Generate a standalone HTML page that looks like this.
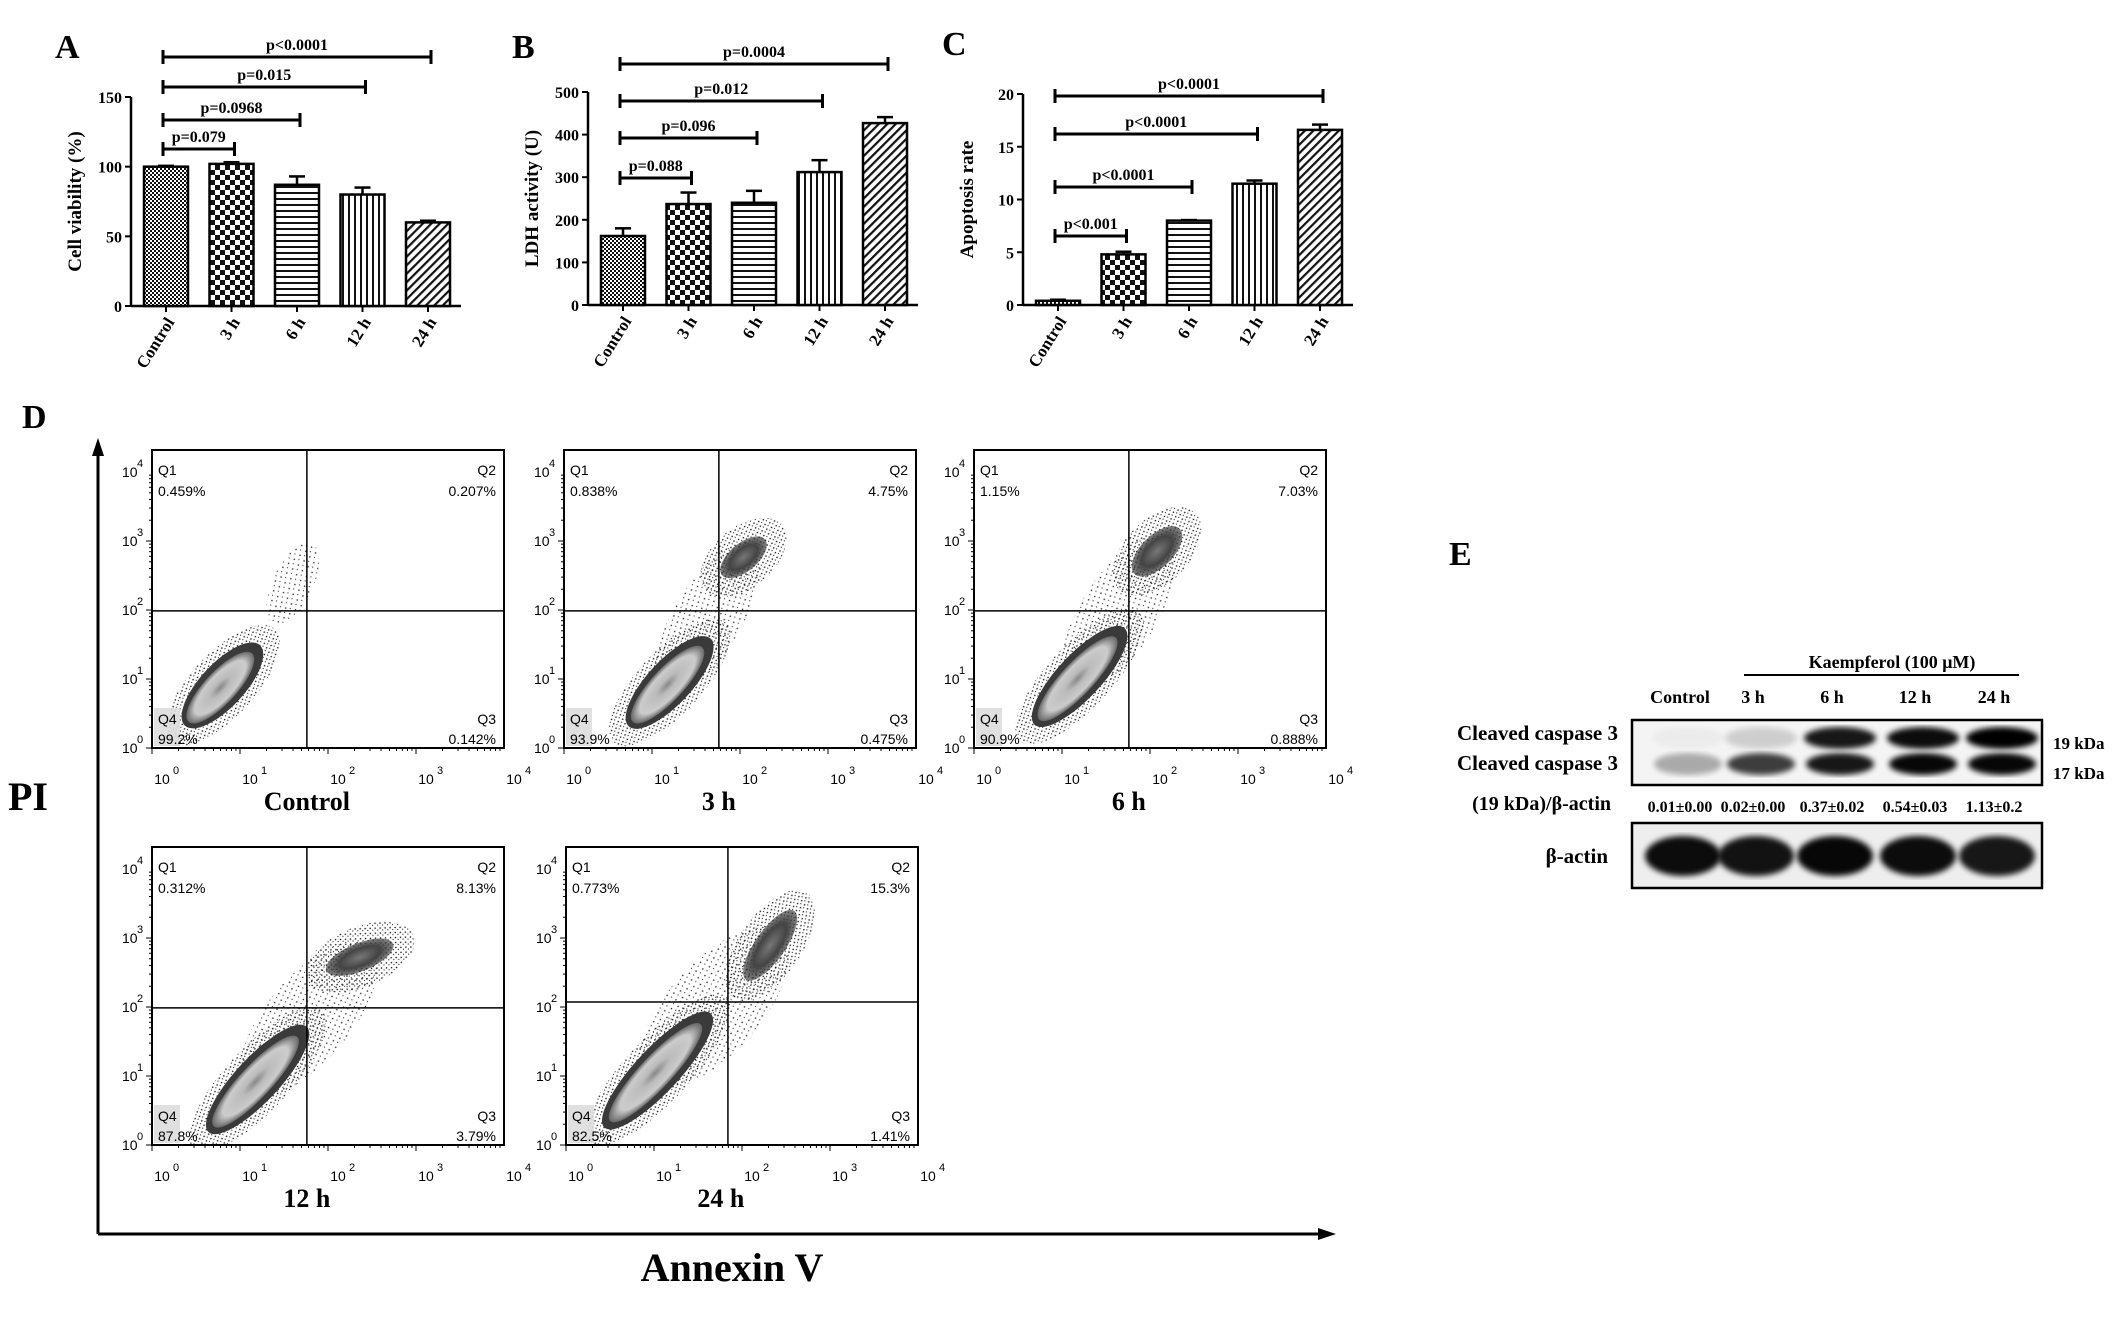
<!DOCTYPE html>
<html><head><meta charset="utf-8"><style>
html,body{margin:0;padding:0;background:#fff;}
svg{display:block;}
.s{font-family:"Liberation Serif",serif;font-weight:bold;}
.f{font-family:"Liberation Sans",sans-serif;}
</style></head><body>
<svg id="fig" width="2126" height="1330" viewBox="0 0 2126 1330" xmlns="http://www.w3.org/2000/svg">
<defs>
<pattern id="pCtrl" width="4" height="4" patternUnits="userSpaceOnUse"><rect width="4" height="4" fill="#fff"/><rect width="2" height="2" fill="#111"/><rect x="2" y="2" width="2" height="2" fill="#111"/></pattern>
<pattern id="pChk" width="10" height="10" patternUnits="userSpaceOnUse"><rect width="10" height="10" fill="#fff"/><rect width="5" height="5" fill="#111"/><rect x="5" y="5" width="5" height="5" fill="#111"/></pattern>
<pattern id="pHor" width="6" height="6" patternUnits="userSpaceOnUse"><rect width="6" height="6" fill="#fff"/><rect width="6" height="2" fill="#111"/></pattern>
<pattern id="pVer" width="6" height="6" patternUnits="userSpaceOnUse"><rect width="6" height="6" fill="#fff"/><rect width="2" height="6" fill="#111"/></pattern>
<pattern id="pDiag" width="6" height="6" patternUnits="userSpaceOnUse" patternTransform="rotate(45)"><rect width="6" height="6" fill="#fff"/><rect width="2.2" height="6" fill="#111"/></pattern>
<pattern id="pDots" width="5" height="5" patternUnits="userSpaceOnUse" patternTransform="rotate(20)"><circle cx="1.5" cy="1.5" r="0.8" fill="#111"/><circle cx="4" cy="3.5" r="0.6" fill="#222"/></pattern>
<pattern id="pSparse" width="7" height="7" patternUnits="userSpaceOnUse" patternTransform="rotate(30)"><circle cx="1.5" cy="1.5" r="0.8" fill="#222"/><circle cx="5" cy="4.5" r="0.6" fill="#333"/></pattern>
<radialGradient id="gCore"><stop offset="0" stop-color="#888"/><stop offset="0.3" stop-color="#bbb"/><stop offset="0.75" stop-color="#ccc"/><stop offset="1" stop-color="#666"/></radialGradient>
<radialGradient id="gBlob"><stop offset="0" stop-color="#777"/><stop offset="0.6" stop-color="#444"/><stop offset="1" stop-color="#333" stop-opacity="0.6"/></radialGradient>
<filter id="blur"><feGaussianBlur stdDeviation="3"/></filter>
</defs>
</svg>
<script>
// ---------- data ----------
const categories = ["Control","3 h","6 h","12 h","24 h"];
const viabilityValues = [100, 102, 87, 80, 60];
const viabilityErrors = [0.6, 1.2, 6, 5, 1.2];
const viabilityTicks = [0, 50, 100, 150];
const viabilityP = ["p=0.079","p=0.0968","p=0.015","p<0.0001"];
const ldhValues = [162, 237, 240, 312, 427];
const ldhErrors = [18, 27, 28, 28, 14];
const ldhTicks = [0, 100, 200, 300, 400, 500];
const ldhP = ["p=0.088","p=0.096","p=0.012","p=0.0004"];
const apoptosisValues = [0.4, 4.8, 8.0, 11.5, 16.6];
const apoptosisErrors = [0.1, 0.25, 0.05, 0.3, 0.5];
const apoptosisTicks = [0, 5, 10, 15, 20];
const apoptosisP = ["p<0.001","p<0.0001","p<0.0001","p<0.0001"];
const flowTitles = ["Control","3 h","6 h","12 h","24 h"];
const flowQ1 = ["0.459%","0.838%","1.15%","0.312%","0.773%"];
const flowQ2 = ["0.207%","4.75%","7.03%","8.13%","15.3%"];
const flowQ3 = ["0.142%","0.475%","0.888%","3.79%","1.41%"];
const flowQ4 = ["99.2%","93.9%","90.9%","87.8%","82.5%"];
const blotRatios = ["0.01±0.00","0.02±0.00","0.37±0.02","0.54±0.03","1.13±0.2"];
const band19 = [0.03, 0.15, 0.9, 0.95, 1.0];
const band17 = [0.3, 0.75, 0.9, 0.97, 0.97];
const actin = [0.95, 0.92, 0.97, 0.95, 0.9];

const svg = document.getElementById('fig');
const NS = 'http://www.w3.org/2000/svg';
function mk(tag, attrs, parent){ const e=document.createElementNS(NS,tag); for(const k in attrs) e.setAttribute(k,attrs[k]); (parent||svg).appendChild(e); return e; }
function txt(s, attrs, parent){ const e=mk('text',attrs,parent); e.textContent=s; return e; }

// ---------- bar charts ----------
const patterns = ['url(#pCtrl)','url(#pChk)','url(#pHor)','url(#pVer)','url(#pDiag)'];
function barChart(c){
  const g = mk('g',{});
  
  
  const yScale = v => c.y0 - (v/c.max)*(c.y0-c.yTop);
  const xScale = i => c.x0 + 35 + i*65.5;
  const L = txt(c.letter,{x:c.lx,y:c.ly,'font-size':34,class:'s'},g);
  
  
  const ya = mk('line',{x1:c.x0,y1:c.yTop,x2:c.x0,y2:c.y0,stroke:'#000','stroke-width':2.5},g);
  
  
  const xa = mk('line',{x1:c.x0,y1:c.y0,x2:c.x0+330,y2:c.y0,stroke:'#000','stroke-width':2.5},g);
  
  
  c.ticks.forEach(t=>{
    const y=yScale(t);
    mk('line',{x1:c.x0-6,y1:y,x2:c.x0,y2:y,stroke:'#000','stroke-width':2},g);
    const tl = txt(String(t),{x:c.x0-9,y:y+6,'text-anchor':'end','font-size':16,class:'s'},g);
    
    
  });
  const yt = txt(c.ytitle,{x:0,y:0,'text-anchor':'middle','font-size':19,class:'s',transform:`translate(${c.x0-50},${(c.y0+c.yTop)/2}) rotate(-90)`},g);
  
  
  c.values.forEach((v,i)=>{
    const cx=xScale(i), y=yScale(v), ye=yScale(v+c.errs[i]);
    mk('line',{x1:cx,y1:ye,x2:cx,y2:y,stroke:'#000','stroke-width':2.5},g);
    mk('line',{x1:cx-8,y1:ye,x2:cx+8,y2:ye,stroke:'#000','stroke-width':2.5},g);
    const b = mk('rect',{x:cx-22,y:y,width:44,height:c.y0-y,fill:patterns[i],stroke:'#000','stroke-width':2.5},g);
    
    
    mk('line',{x1:cx,y1:c.y0,x2:cx,y2:c.y0+6,stroke:'#000','stroke-width':2},g);
    const xl = txt(categories[i],{x:0,y:0,'text-anchor':'end','font-size':17,class:'s',transform:`translate(${cx+9},${c.y0+16}) rotate(-58)`},g);
    
    
  });
  c.p.forEach((p,k)=>{
    const y=c.bry[k], x1=xScale(0)-3, x2=xScale(k+1)+3;
    const br = mk('path',{d:`M${x1},${y-7}V${y+7}M${x1},${y}H${x2}M${x2},${y-7}V${y+7}`,stroke:'#000','stroke-width':3,fill:'none'},g);
    
    
    const pl = txt(p,{x:(x1+x2)/2,y:y-7,'text-anchor':'middle','font-size':16,class:'s'},g);
    
    
  });
}
barChart({name:'panel-a-cell-viability',letter:'A',lx:55,ly:58,x0:131,y0:306,yTop:97,max:150,values:viabilityValues,errs:viabilityErrors,ticks:viabilityTicks,ytitle:'Cell viability (%)',p:viabilityP,bry:[149,120,87,57]});
barChart({name:'panel-b-ldh-activity',letter:'B',lx:512,ly:58,x0:588,y0:305,yTop:92,max:500,values:ldhValues,errs:ldhErrors,ticks:ldhTicks,ytitle:'LDH activity (U)',p:ldhP,bry:[178,138,101,64]});
barChart({name:'panel-c-apoptosis-rate',letter:'C',lx:942,ly:55,x0:1023,y0:305,yTop:94,max:20,values:apoptosisValues,errs:apoptosisErrors,ticks:apoptosisTicks,ytitle:'Apoptosis rate',p:apoptosisP,bry:[236,187,134,96]});

// ---------- flow cytometry ----------
const D = txt('D',{x:22,y:428,'font-size':34,class:'s'});


const ax = mk('path',{d:'M98,1234V452M98,1234H1322',stroke:'#000','stroke-width':3,fill:'none'});


mk('path',{d:'M92,456L98,438L104,456Z',fill:'#000'});
mk('path',{d:'M1318,1228L1336,1234L1318,1240Z',fill:'#000'});
const pi = txt('PI',{x:8,y:810,'font-size':40,class:'s'});


const an = txt('Annexin V',{x:732,y:1281,'text-anchor':'middle','font-size':40,class:'s'});



const flowPos = [[152,450],[564,450],[974,450],[152,847],[566,847]];
const flowQuad = [[0.44,0.54],[0.44,0.54],[0.44,0.54],[0.44,0.54],[0.46,0.52]];
const flowMain = [[0.2,0.79,55],[0.3,0.78,60],[0.3,0.76,66],[0.3,0.78,72],[0.26,0.75,78]];
const flowBlob2 = [null,[0.51,0.36,28,14,-40],[0.52,0.34,32,16,-45],[0.59,0.37,36,14,-22],[0.58,0.33,42,15,-55]];
flowTitles.forEach((t,i)=>{
  const [x,y]=flowPos[i], w=352, h=298;
  const g=mk('g',{});
  
  
  const clip = mk('clipPath',{id:'c'+i},g); mk('rect',{x:x,y:y,width:w,height:h},clip);
  const gg = mk('g',{'clip-path':`url(#c${i})`},g);
  const [fx,fy,L]=flowMain[i];
  const mx=x+w*fx, my=y+h*fy;
  const tr=`translate(${mx},${my}) rotate(-47)`;
  if(flowBlob2[i]){
    const b=flowBlob2[i]; const bx=x+w*b[0], by=y+h*b[1];
    // bridge scatter
    const ang=Math.atan2(by-my,bx-mx)*180/Math.PI, len=Math.hypot(bx-mx,by-my);
    mk('ellipse',{cx:0,cy:0,rx:len*0.6,ry:30+i*4,fill:'url(#pSparse)',transform:`translate(${(mx+bx)/2},${(my+by)/2}) rotate(${ang})`},gg);
    const tr2=`translate(${bx},${by}) rotate(${b[4]})`;
    mk('ellipse',{cx:0,cy:0,rx:b[2]+22,ry:b[3]+16,fill:'url(#pDots)',transform:tr2},gg);
    mk('ellipse',{cx:0,cy:0,rx:b[2],ry:b[3],fill:'url(#gBlob)',transform:tr2},gg);
  } else {
    mk('ellipse',{cx:0,cy:0,rx:45,ry:20,fill:'url(#pSparse)',transform:`translate(${x+w*0.4},${y+h*0.45}) rotate(-65)`},gg);
  }
  mk('ellipse',{cx:0,cy:0,rx:L+22,ry:32,fill:'url(#pDots)',transform:tr},gg);
  mk('ellipse',{cx:0,cy:0,rx:L,ry:22,fill:'#3a3a3a',transform:tr},gg);
  mk('ellipse',{cx:-3,cy:0,rx:L*0.85,ry:16,fill:'url(#gCore)',transform:tr},gg);
  mk('rect',{x:x+2,y:y+h-40,width:26,height:38,fill:'#ddd',opacity:0.9},gg);
  const [qx,qy]=flowQuad[i];
  mk('rect',{x:x,y:y,width:w,height:h,fill:'none',stroke:'#000','stroke-width':2},g);
  mk('line',{x1:x+w*qx,y1:y,x2:x+w*qx,y2:y+h,stroke:'#000','stroke-width':1.5},g);
  mk('line',{x1:x,y1:y+h*qy,x2:x+w,y2:y+h*qy,stroke:'#000','stroke-width':1.5},g);
  for(let k=0;k<4;k++){ for(let m=1;m<10;m++){
    const f=(k+Math.log10(m))/4, len=m===1?6:3;
    mk('line',{x1:x+w*f,y1:y+h,x2:x+w*f,y2:y+h+len,stroke:'#000','stroke-width':1},g);
    const yy=y+h-(h-22)*f;
    mk('line',{x1:x-len,y1:yy,x2:x,y2:yy,stroke:'#000','stroke-width':1},g);
  }}
  for(let k=0;k<=4;k++){
    const xl=txt('10',{x:x+w*k/4+10,y:y+h+36,'font-size':14,class:'f','text-anchor':'middle'},g);
    
    
    txt(String(k),{x:x+w*k/4+21,y:y+h+26,'font-size':11,class:'f'},g);
    const yy=y+h-(h-22)*k/4;
    const yl=txt('10',{x:x-30,y:yy+5,'font-size':14,class:'f'},g);
    
    
    txt(String(k),{x:x-15,y:yy-5,'font-size':11,class:'f'},g);
  }
  const lab=[['Q1',x+6,y+25,'start'],[flowQ1[i],x+6,y+46,'start'],['Q2',x+w-8,y+25,'end'],[flowQ2[i],x+w-8,y+46,'end'],
             ['Q4',x+6,y+h-24,'start'],[flowQ4[i],x+6,y+h-4,'start'],['Q3',x+w-8,y+h-24,'end'],[flowQ3[i],x+w-8,y+h-4,'end']];
  lab.forEach(l=>{ const e=txt(l[0],{x:l[1],y:l[2],'font-size':14,class:'f','text-anchor':l[3]},g);
    
     });
  const tt=txt(t,{x:x+w*0.44,y:y+h+62,'text-anchor':'middle','font-size':26,class:'s'},g);
  
  
});

// ---------- western blot ----------
const laneX = [1680,1753,1832,1915,1994];
const E=txt('E',{x:1449,y:565,'font-size':34,class:'s'});


const kt=txt('Kaempferol (100 μM)',{x:1892,y:668,'text-anchor':'middle','font-size':18,class:'s'});


mk('line',{x1:1744,y1:675,x2:2019,y2:675,stroke:'#000','stroke-width':2});
categories.forEach((c,i)=>{ const e=txt(c,{x:laneX[i],y:703,'text-anchor':'middle','font-size':18,class:'s'});
  
   });
const blot1=mk('g',{});


mk('rect',{x:1632,y:720,width:410,height:65,fill:'#f4f4f4',stroke:'#000','stroke-width':2.5},blot1);
laneX.forEach((lx,i)=>{
  mk('ellipse',{cx:lx+8,cy:738,rx:36,ry:11,fill:'#000',opacity:band19[i],filter:'url(#blur)'},blot1);
  mk('ellipse',{cx:lx+8,cy:764,rx:34,ry:11,fill:'#000',opacity:band17[i],filter:'url(#blur)'},blot1);
});
[['Cleaved caspase 3',740],['Cleaved caspase 3',770]].forEach(a=>{ const e=txt(a[0],{x:1618,y:a[1],'text-anchor':'end','font-size':21,class:'s'});
  
   });
[['19 kDa',749],['17 kDa',779]].forEach(a=>{ const e=txt(a[0],{x:2053,y:a[1],'font-size':17,class:'s'});
  
   });
const rl=txt('(19 kDa)/β-actin',{x:1611,y:810,'text-anchor':'end','font-size':20,class:'s'});


blotRatios.forEach((r,i)=>{ const e=txt(r,{x:laneX[i],y:812,'text-anchor':'middle','font-size':16,class:'s'});
  
   });
const blot2=mk('g',{});


mk('rect',{x:1632,y:823,width:410,height:65,fill:'#eee',stroke:'#000','stroke-width':2.5},blot2);
laneX.forEach((lx,i)=>{ mk('ellipse',{cx:lx+3,cy:856,rx:38,ry:20,fill:'#000',opacity:actin[i],filter:'url(#blur)'},blot2); });
const bl=txt('β-actin',{x:1608,y:863,'text-anchor':'end','font-size':21,class:'s'});


</script>
</body></html>
